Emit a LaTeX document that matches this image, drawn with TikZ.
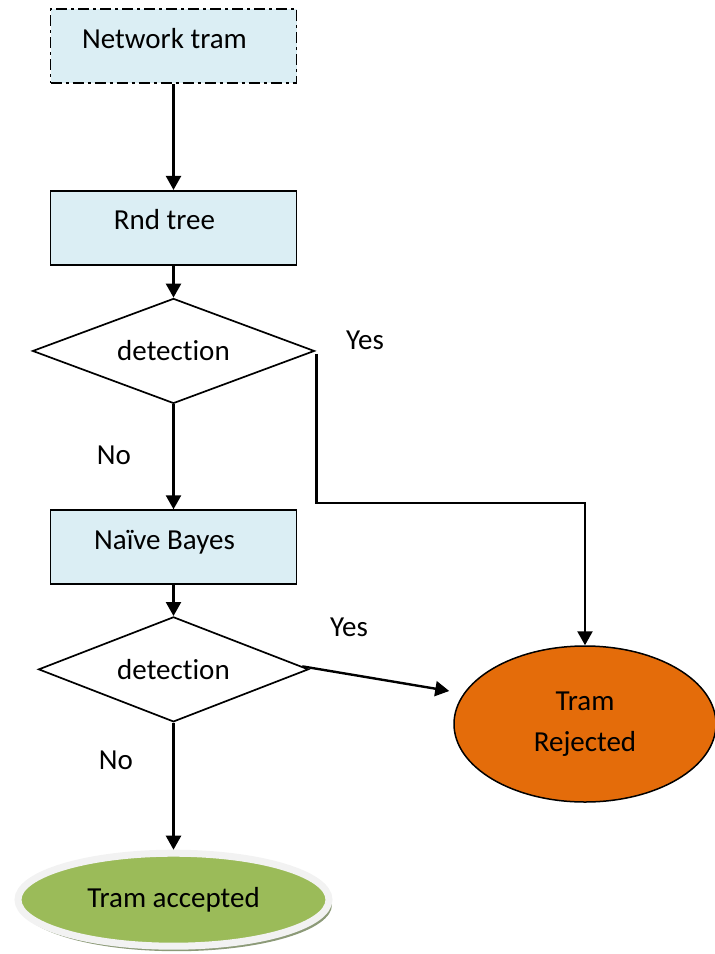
\documentclass[tikz,border=0pt]{standalone}
\usepackage{fontspec}
\setmainfont{Carlito}[Ligatures=NoCommon]
\usetikzlibrary{arrows.meta,positioning,shapes.geometric,shadows}
\definecolor{boxfill}{HTML}{DBEEF4}
\definecolor{rejfill}{HTML}{E46C0A}
\definecolor{accfill}{HTML}{9BBB59}
\definecolor{accshade}{HTML}{8C9A78}

\begin{document}
\begin{tikzpicture}[
x=1pt, y=-1pt,
every node/.style={font=\fontsize{29}{41}\selectfont},
box/.style={draw, line width=1.7pt, fill=boxfill, minimum width=246pt, minimum height=74pt, text height=22pt, text depth=18pt, inner sep=0pt, execute at end node={\hspace*{18pt}}},
netbox/.style={box, line width=1.8pt, dash pattern=on 11pt off 4pt on 3pt off 4pt},
decision/.style={diamond, draw, line width=1.7pt, aspect=2.6, inner sep=0pt, minimum height=105pt},
rejected/.style={ellipse, draw, line width=1.5pt, fill=rejfill, minimum width=262pt, minimum height=156pt, align=center},
accepted/.style={ellipse, draw=gray!10, line width=7pt, fill=accfill, minimum width=311pt, minimum height=93pt, drop shadow={shadow xshift=3pt, shadow yshift=-5pt, fill=accshade, opacity=1}},
arrow/.style={-{Triangle[length=14pt,width=15pt]}, line width=2.4pt}
]
\useasboundingbox (0,0) rectangle (715,954);
\node[netbox] (net) at (173.5,46) {Network tram};
\node[box, below=106pt of net] (rnd) {Rnd tree};
\node[decision, minimum width=282pt, below=32pt of rnd] (det1) {detection};
\node[box, below=105pt of det1] (nb) {Naïve Bayes};
\node[decision, minimum width=270pt, below=31pt of nb] (det2) {detection};
\node[accepted, below=127pt of det2] (acc) {Tram accepted};
\node[rejected] (rej) at (585,724) {Tram\\Rejected};
\node (yes1) at (365,340) {Yes};
\node (no1) at (114,455) {No};
\node (yes2) at (349,627) {Yes};
\node (no2) at (116,760) {No};
\coordinate (turn) at (0,503);
\coordinate (rejin) at ([shift={(-4pt,33pt)}]rej.west);
\draw[arrow] (net) -- (rnd);
\draw[arrow] (rnd) -- (det1);
\draw[arrow] (det1) -- (nb);
\draw[arrow] (nb) -- (det2);
\draw[arrow] (det2) -- (acc);
\draw[arrow] ([shift={(1pt,-3pt)}]det1.east) |- (turn -| rej.north) -- (rej.north);
\draw[arrow] ([shift={(-7pt,3pt)}]det2.east) -- (rejin);
\end{tikzpicture}
\end{document}
